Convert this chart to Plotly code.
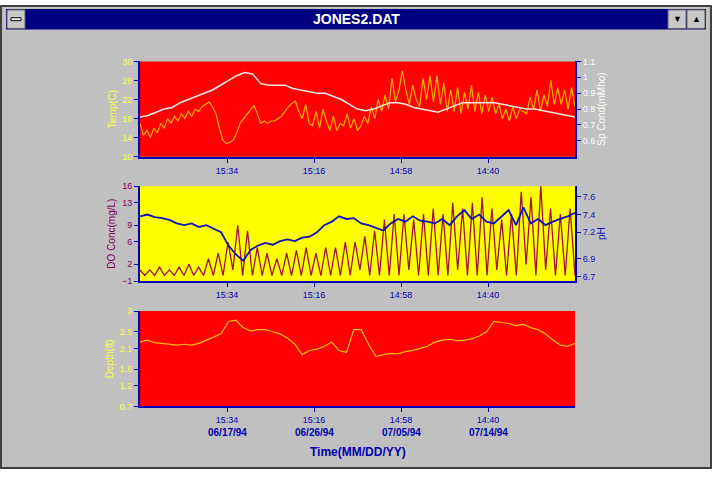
import numpy as np
import plotly.graph_objects as go

W, H = 712, 478

# time axis: 0..5 units (tick every 9 days)
tick_times = ["15:34", "15:16", "14:58", "14:40"]
tick_dates = ["06/17/94", "06/26/94", "07/05/94", "07/14/94"]

temp = [17, 14.5, 15.5, 14, 16, 15, 17, 16, 18, 17, 18.5, 17.5, 19, 18, 19.5, 18.5, 20, 19.5,
        20.5, 21, 21.5, 20.5, 19, 16, 13.5, 12.8, 13, 13.5, 15, 17, 18, 19, 20, 20.8, 19, 17,
        17.5, 17, 17.5, 17.5, 18, 18.5, 19.5, 20.5, 21.2, 21.7, 19.5, 18, 21, 17, 16.5, 19.5,
        16, 20, 17.5, 15.5, 18.5, 15.5, 17, 16.5, 19, 16, 18, 15.5, 16.5, 18.5, 17, 20.5, 18,
        22, 19.5, 23, 20, 26.5, 21.5, 24, 28, 24, 21, 25, 22, 20.5, 26.5, 22, 27, 21.5, 27, 21,
        25.5, 19.5, 24, 19.5, 24.5, 19, 23.5, 20, 25, 19.5, 23.5, 19, 23, 19.5, 22.5, 19, 21,
        18, 20, 17.5, 20.5, 18, 20, 19.5, 19, 22.5, 20, 24, 19.5, 23, 20.5, 26, 21, 24.5, 21,
        24, 20, 24.5, 20.5]
sp_cond = [0.75, 0.76, 0.78, 0.80, 0.81, 0.84, 0.86, 0.88, 0.90, 0.92, 0.95, 0.98, 1.01, 1.03,
           1.02, 0.96, 0.95, 0.95, 0.95, 0.93, 0.92, 0.91, 0.90, 0.90, 0.88, 0.86, 0.83, 0.80,
           0.79, 0.80, 0.82, 0.84, 0.84, 0.83, 0.81, 0.80, 0.79, 0.78, 0.80, 0.82, 0.84, 0.84,
           0.84, 0.84, 0.84, 0.83, 0.82, 0.81, 0.80, 0.80, 0.79, 0.78, 0.77, 0.76, 0.75]
do_conc = [1, 0, 1, 0, 1.5, 0, 1, 0, 1.5, 0, 2, 0, 1.5, 0, 3, 0, 4, 0, 6, 1, 9, 0, 8, 0, 5, 0,
           4, 0, 3, 0, 4, 0, 4.5, 0, 5, 0, 4, 0, 5, 0, 5, 0, 6, 0, 6, 1, 7, 0, 8, 0, 10, 0, 11,
           0, 11, 1, 10, 0, 11, 0, 12, 0, 11, 0, 13, 1, 12, 0, 13, 0, 14, 0, 12, 1, 10, 0, 11,
           0, 15, 2, 14, 0, 16, 1, 12, 0, 11, 0, 12, 0]
ph = [7.38, 7.4, 7.37, 7.36, 7.34, 7.3, 7.28, 7.3, 7.26, 7.28, 7.24, 7.2, 7.05, 6.95, 6.88,
      7.0, 7.05, 7.08, 7.06, 7.1, 7.12, 7.1, 7.14, 7.15, 7.2, 7.28, 7.32, 7.38, 7.35, 7.36,
      7.3, 7.28, 7.25, 7.22, 7.3, 7.35, 7.32, 7.38, 7.33, 7.32, 7.3, 7.35, 7.28, 7.38, 7.45,
      7.35, 7.4, 7.32, 7.3, 7.38, 7.45, 7.28, 7.48, 7.3, 7.35, 7.28, 7.32, 7.35, 7.38, 7.42]
depth = [2.25, 2.3, 2.24, 2.22, 2.2, 2.18, 2.2, 2.18, 2.22, 2.3, 2.38, 2.45, 2.75, 2.78, 2.6,
         2.52, 2.55, 2.55, 2.5, 2.45, 2.35, 2.2, 1.95, 2.05, 2.08, 2.15, 2.25, 2.05, 2.0, 2.55,
         2.55, 2.2, 1.9, 1.95, 1.98, 1.97, 2.02, 2.05, 2.1, 2.15, 2.25, 2.3, 2.32, 2.28, 2.3,
         2.33, 2.4, 2.5, 2.75, 2.72, 2.7, 2.65, 2.68, 2.6, 2.55, 2.45, 2.3, 2.18, 2.15, 2.22]


def t(n):
    return np.linspace(0, 5, n)


def py(y):
    return 1 - y / H


BLUE = "#0000b0"
fig = go.Figure()
fig.add_trace(go.Scatter(x=t(len(temp)), y=temp, xaxis="x", yaxis="y",
                         line=dict(color="#ffb000", width=1.2)))
fig.add_trace(go.Scatter(x=t(len(sp_cond)), y=sp_cond, xaxis="x", yaxis="y2",
                         line=dict(color="#f4e8e8", width=1.5)))
fig.add_trace(go.Scatter(x=t(len(do_conc)), y=do_conc, xaxis="x2", yaxis="y3",
                         line=dict(color="#a01040", width=1.3)))
fig.add_trace(go.Scatter(x=t(len(ph)), y=ph, xaxis="x2", yaxis="y4",
                         line=dict(color="#1010c0", width=1.8)))
fig.add_trace(go.Scatter(x=t(len(depth)), y=depth, xaxis="x3", yaxis="y5",
                         line=dict(color="#ffc000", width=1.2)))

xdom = [140 / W, 575 / W]
font_tick = dict(family="Arial", size=9)


def xax(anchor):
    return dict(domain=xdom, anchor=anchor, range=[0, 5], tickvals=[1, 2, 3, 4],
                ticktext=tick_times, showgrid=False, zeroline=False, showline=True,
                linecolor=BLUE, linewidth=2, ticks="outside", tickcolor=BLUE,
                ticklen=4, tickfont=dict(font_tick, color=BLUE))


def yax(rng, vals, col, title, anchor, dom=None, side="left", overlay=None):
    d = dict(range=rng, tickvals=vals, showgrid=False, zeroline=False, showline=True,
             linecolor=BLUE, linewidth=2, ticks="outside", tickcolor=BLUE, ticklen=4,
             tickfont=dict(font_tick, color=col), side=side, anchor=anchor,
             title=dict(text=title, font=dict(family="Arial", size=10, color=col),
                        standoff=4))
    if overlay:
        d["overlaying"] = overlay
    else:
        d["domain"] = dom
    return d


top = [py(155), py(57.6)]
mid = [py(282), py(185)]
bot = [py(410), py(312.6)]

y1 = yax([10, 30], [10, 14, 18, 22, 26, 30], "#ffff40", "Temp(C)", "x", top)
y2 = yax([0.5, 1.1], [0.6, 0.7, 0.8, 0.9, 1.0, 1.1], "#ffffff", "Sp Cond(mMho)", "x",
         side="right", overlay="y")
y3 = yax([-1, 16], [-1, 2, 6, 9, 13, 16], "#800060", "DO Conc(mg/L)", "x2", mid)
y4 = yax([6.65, 7.72], [6.7, 6.9, 7.2, 7.4, 7.6], "#1010c0", "pH", "x2",
         side="right", overlay="y3")
y5 = yax([0.7, 3.0], [0.7, 1.2, 1.6, 2.1, 2.5, 3.0], "#ffff40", "Depth(ft)", "x3", bot)


def rect(x0, y0, x1, y1, fill, line=None):
    return dict(type="rect", xref="paper", yref="paper", x0=x0 / W, x1=x1 / W,
                y0=py(y1), y1=py(y0), fillcolor=fill, layer="below",
                line=line or dict(width=0))


shapes = [
    rect(1, 1, 711, 473, "#c0c0c0", dict(color="#404040", width=2)),
    rect(6, 4, 706, 25, "#000080"),
    rect(7, 5, 25, 24, "#c8c8c8", dict(color="#606060", width=1)),
    rect(668, 5, 686, 24, "#c8c8c8", dict(color="#606060", width=1)),
    rect(687, 5, 705, 24, "#c8c8c8", dict(color="#606060", width=1)),
    rect(11, 13, 21, 16, "#ffffff", dict(color="#000000", width=1)),
    rect(140, 57.6, 575, 155, "#ff0000"),
    rect(140, 185, 575, 282, "#ffff00"),
    rect(140, 312.6, 575, 410, "#ff0000"),
]


def note(text, x, y, size, color, xref="paper"):
    return dict(text=text, x=x, y=py(y), xref=xref, yref="paper", showarrow=False,
                yanchor="middle", xanchor="center",
                font=dict(family="Arial", size=size, color=color))


annotations = [
    note("<b>JONES2.DAT</b>", 0.5, 14, 14, "white"),
    note("▼", 677 / W, 14.5, 9, "black"),
    note("▲", 696 / W, 14.5, 9, "black"),
    note("<b>Time(MM/DD/YY)</b>", (140 + 575) / 2 / W, 457, 12, BLUE),
]
for i, d in enumerate(tick_dates):
    annotations.append(note(f"<b>{d}</b>", i + 1, 437, 10, BLUE, xref="x3"))

fig.update_layout(
    width=W, height=H, margin=dict(l=0, r=0, t=0, b=0), showlegend=False,
    paper_bgcolor="white", plot_bgcolor="rgba(0,0,0,0)",
    xaxis=xax("y"), xaxis2=xax("y3"), xaxis3=xax("y5"),
    yaxis=y1, yaxis2=y2, yaxis3=y3, yaxis4=y4, yaxis5=y5,
    shapes=shapes, annotations=annotations,
)
fig.write_html("out.html", config={"displayModeBar": False},
               post_script="document.body.style.margin='0';")
